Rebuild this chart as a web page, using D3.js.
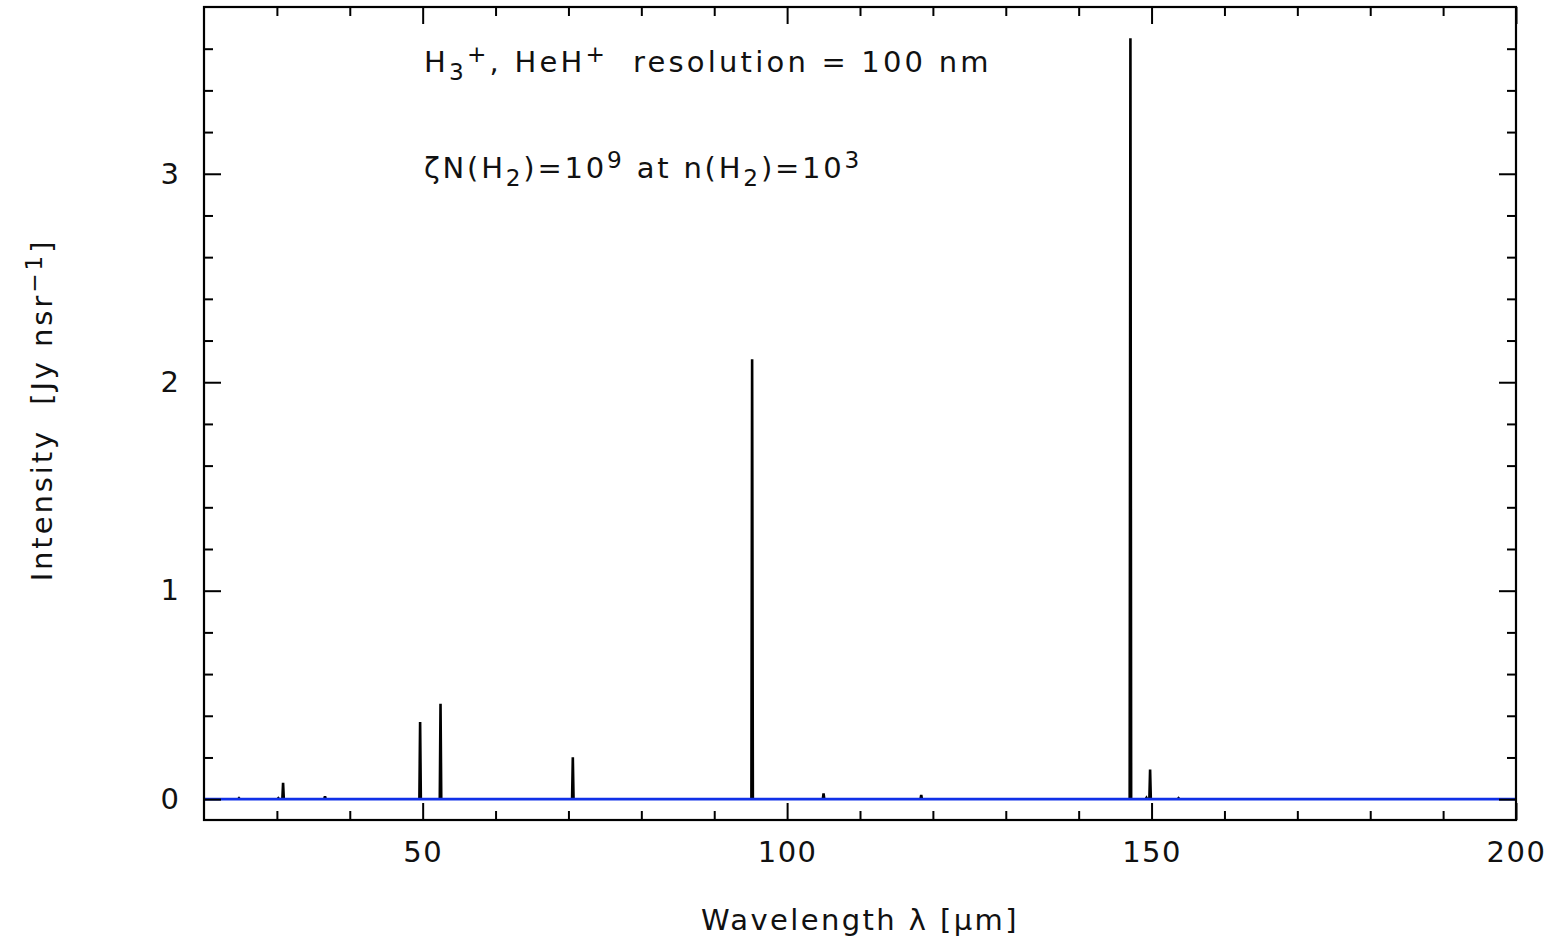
<!DOCTYPE html>
<html>
<head>
<meta charset="utf-8">
<script src="https://cdn.jsdelivr.net/npm/d3@7"></script>
<style>
  body { margin: 0; background: #fff; }
  svg text { font-family: 'DejaVu Sans', sans-serif; fill: #111; }
  .axis path { display: none; }
  .axis line { stroke: #000; stroke-width: 2; }
</style>
</head>
<body>
<svg id="chart" width="1550" height="941"></svg>
<script>
// line positions (micron) and peak intensities (Jy nsr^-1)
const lineWavelengths = [24.8, 30.2, 30.85, 36.6, 49.65, 52.45, 70.6, 95.2, 105.0, 118.4, 147.1, 149.3, 149.8, 153.7]
const lineIntensities = [0.004, 0.004, 0.078, 0.014, 0.37, 0.458, 0.201, 2.11, 0.027, 0.02, 3.65, 0.006, 0.142, 0.004]
const resolution = 0.1

const xMajorTicks = [50, 100, 150, 200]
const xMinorTicks = [30, 40, 60, 70, 80, 90, 110, 120, 130, 140, 160, 170, 180, 190]
const yMajorTicks = [0, 1, 2, 3]
const yMinorTicks = [0.2, 0.4, 0.6, 0.8, 1.2, 1.4, 1.6, 1.8, 2.2, 2.4, 2.6, 2.8, 3.2, 3.4, 3.6]

const margin = { left: 204, right: 34, top: 7, bottom: 121 }
const width = 1550 - margin.left - margin.right
const height = 941 - margin.top - margin.bottom

const svg = d3.select('#chart')
const g = svg.append('g').attr('transform', `translate(${margin.left},${margin.top})`)

const x = d3.scaleLinear().domain([20, 200]).range([0, width])
const y = d3.scaleLinear().domain([-0.1, 3.8]).range([height, 0])

// spectrum lines as narrow spikes
const spike = d3.line().x((d) => x(d[0])).y((d) => y(d[1]))
const spikes = lineWavelengths.map((w, i) => [[w - resolution, 0], [w, lineIntensities[i]], [w + resolution, 0]])

g.selectAll('path.spike')
  .data(spikes)
  .enter()
  .append('path')
  .attr('class', 'spike')
  .attr('d', spike)
  .attr('fill', '#000')
  .attr('stroke', '#000')
  .attr('stroke-width', 2.6)
  .attr('stroke-linejoin', 'miter')

// zero line
g.append('line')
  .attr('x1', 0).attr('x2', width)
  .attr('y1', y(0)).attr('y2', y(0))
  .attr('stroke', '#1030e8')
  .attr('stroke-width', 2.6)

// axes, ticks pointing inward
const major = 17
const minor = 9

g.append('g').attr('class', 'axis').attr('transform', `translate(0,${height})`)
  .call(d3.axisBottom(x).tickValues(xMajorTicks).tickSize(-major).tickPadding(major + 4).tickFormat(d3.format('d')))
  .call((a) => a.selectAll('text').attr('font-size', 29).attr('letter-spacing', 1.5).attr('fill', '#111'))
g.append('g').attr('class', 'axis').attr('transform', `translate(0,${height})`)
  .call(d3.axisBottom(x).tickValues(xMinorTicks).tickSize(-minor).tickFormat(''))
g.append('g').attr('class', 'axis')
  .call(d3.axisTop(x).tickValues(xMajorTicks).tickSize(-major).tickFormat(''))
g.append('g').attr('class', 'axis')
  .call(d3.axisTop(x).tickValues(xMinorTicks).tickSize(-minor).tickFormat(''))

g.append('g').attr('class', 'axis')
  .call(d3.axisLeft(y).tickValues(yMajorTicks).tickSize(-major).tickPadding(major + 8).tickFormat(d3.format('d')))
  .call((a) => a.selectAll('text').attr('font-size', 29).attr('fill', '#111'))
g.append('g').attr('class', 'axis')
  .call(d3.axisLeft(y).tickValues(yMinorTicks).tickSize(-minor).tickFormat(''))
g.append('g').attr('class', 'axis').attr('transform', `translate(${width},0)`)
  .call(d3.axisRight(y).tickValues(yMajorTicks).tickSize(-major).tickFormat(''))
g.append('g').attr('class', 'axis').attr('transform', `translate(${width},0)`)
  .call(d3.axisRight(y).tickValues(yMinorTicks).tickSize(-minor).tickFormat(''))

// frame
g.append('rect')
  .attr('width', width).attr('height', height)
  .attr('fill', 'none').attr('stroke', '#000').attr('stroke-width', 2.2)

// helper for text with sub/superscripts
function richText(sel, parts, size) {
  parts.forEach((p) => {
    const t = sel.append('tspan').text(p.t)
    if (p.s === 'sub') t.attr('font-size', size * 0.8).attr('baseline-shift', '-35%')
    else if (p.s === 'sup') t.attr('font-size', size * 0.8).attr('baseline-shift', '45%')
    else t.attr('font-size', size)
  })
  return sel
}

// annotations
richText(svg.append('text').attr('x', 424).attr('y', 72).attr('xml:space', 'preserve').attr('letter-spacing', 3.2), [
  { t: 'H' }, { t: '3', s: 'sub' }, { t: '+', s: 'sup' }, { t: ', HeH' }, { t: '+', s: 'sup' },
  { t: '  resolution = 100 nm' }
], 29)

richText(svg.append('text').attr('x', 424).attr('y', 178).attr('letter-spacing', 2.8), [
  { t: 'ζN(H' }, { t: '2', s: 'sub' }, { t: ')=10' }, { t: '9', s: 'sup' }, { t: ' at n(H' },
  { t: '2', s: 'sub' }, { t: ')=10' }, { t: '3', s: 'sup' }
], 29)

// axis titles
svg.append('text')
  .attr('x', 860).attr('y', 930)
  .attr('text-anchor', 'middle')
  .attr('font-size', 29)
  .attr('letter-spacing', 2.4)
  .text('Wavelength λ [μm]')

richText(svg.append('text')
  .attr('transform', 'translate(52,410) rotate(-90)')
  .attr('text-anchor', 'middle')
  .attr('letter-spacing', 2.9)
  .attr('xml:space', 'preserve'), [
  { t: 'Intensity  [Jy nsr' }, { t: '−1', s: 'sup' }, { t: ']' }
], 29)
</script>
</body>
</html>
